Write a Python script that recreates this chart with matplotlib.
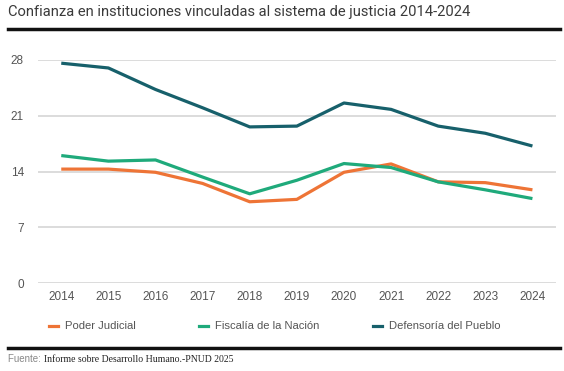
import matplotlib.pyplot as plt
from matplotlib.lines import Line2D

# data
years = [2014, 2015, 2016, 2017, 2018, 2019, 2020, 2021, 2022, 2023, 2024]
poder_judicial = [14.3, 14.3, 13.9, 12.5, 10.2, 10.5, 13.9, 14.95, 12.7, 12.6, 11.7]
fiscalia = [16.0, 15.3, 15.45, 13.3, 11.2, 12.9, 15.0, 14.5, 12.7, 11.7, 10.6]
defensoria = [27.6, 27.0, 24.3, 22.0, 19.6, 19.7, 22.6, 21.8, 19.7, 18.8, 17.2]
labels = ["Poder Judicial", "Fiscalía de la Nación", "Defensoría del Pueblo"]
colors = ["#EE7436", "#1FAA7B", "#17606B"]
yticks = [0, 7, 14, 21, 28]

plt.rcParams['font.family'] = ['Liberation Sans', 'DejaVu Sans']

fig = plt.figure(figsize=(5.64, 3.71), dpi=100)
ax = fig.add_axes([37.7 / 564, 1 - 283 / 371, (556 - 37.7) / 564, 223 / 371])

for vals, col in zip([poder_judicial, fiscalia, defensoria], colors):
    ax.plot(years, vals, color=col, lw=2.3, clip_on=False, solid_capstyle='butt', zorder=3)

ax.set_xlim(2013.5, 2024.5)
ax.set_ylim(0, 28)
ax.set_yticks(yticks)
ax.set_xticks(years)
ax.grid(axis='y', color='#dcdcdc', lw=1.4)
ax.set_axisbelow(True)
for s in ax.spines.values():
    s.set_visible(False)
ax.tick_params(length=0, labelsize=8.5, labelcolor='#555555')
ax.tick_params(axis='y', pad=10)
ax.tick_params(axis='x', pad=6)

# title
fig.text(8 / 564, 1 - 12 / 371, "Confianza en instituciones vinculadas al sistema de justicia 2014-2024",
         fontsize=10.6, color='#3a3a3a', va='center', ha='left', family=['Roboto', 'DejaVu Sans'])

# black rules
fig.add_artist(Line2D([8 / 564, 560 / 564], [1 - 29 / 371] * 2, color='#111111', lw=2.5))
fig.add_artist(Line2D([8 / 564, 560 / 564], [1 - 347.5 / 371] * 2, color='#111111', lw=2.5))

# legend
leg_x = [49, 199, 373]
for x0, lab, col in zip(leg_x, labels, colors):
    y = 1 - 326 / 371
    fig.add_artist(Line2D([x0 / 564, (x0 + 9) / 564], [y, y], color=col, lw=2.3))
    fig.text((x0 + 16) / 564, y, lab, fontsize=8.1, color='#555555', va='center', ha='left')

# source
t = fig.text(8 / 564, 1 - 359 / 371, "Fuente: ", fontsize=7, color='#888888', va='center', ha='left')
fig.canvas.draw()
bb = t.get_window_extent()
fig.text(bb.x1 / fig.bbox.width, 1 - 359 / 371, "Informe sobre Desarrollo Humano.-PNUD 2025",
         fontsize=7, color='#222222', va='center', ha='left', family='Liberation Serif')

fig.savefig("out.png", dpi=100)
